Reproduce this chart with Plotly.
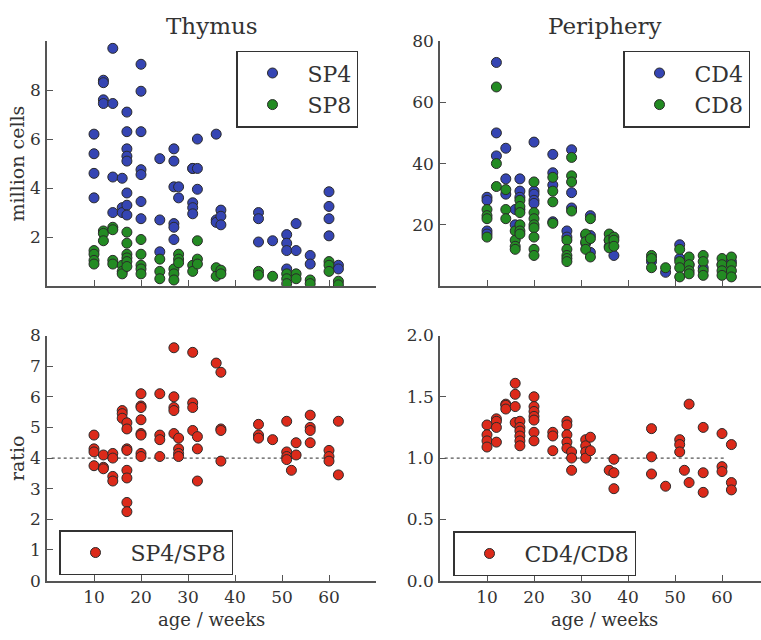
import plotly.graph_objects as go

# ---------------- data ----------------
# Thymus: SP4 and SP8 counts (million cells) by age (weeks)
sp4_age = [10,10,10,10, 12,12,12,12, 14,14,14,14, 16,16,16,
           17,17,17,17,17,17,17,17, 20,20,20,20,20,20,20, 24,24,24,
           27,27,27,27,27,27, 28,28, 31,31,31,31,31, 32,32,32,
           36,36,36, 37,37,37, 45,45,45, 48, 51,51,51,51, 53,53,
           56,56, 60,60,60,60, 62,62]
sp4_val = [6.2,5.4,4.6,3.6, 8.4,8.3,7.6,7.45, 9.7,7.45,4.45,3.0, 4.4,3.2,3.0,
           7.1,6.3,5.6,5.3,5.1,3.8,3.3,2.9, 9.05,7.95,6.3,4.75,4.55,3.45,2.75, 5.2,2.7,1.4,
           5.6,5.1,4.05,2.55,2.4,1.9, 4.05,3.6, 4.8,4.8,3.4,3.2,2.95, 6.0,4.8,3.95,
           6.2,2.7,2.6, 3.1,2.85,2.5, 3.0,2.75,1.8, 1.85, 2.1,1.75,1.45,0.7, 2.55,1.45,
           1.25,0.9, 3.85,3.25,2.75,2.05, 0.85,0.7]
sp8_age = [10,10,10,10, 12,12,12, 14,14,14,14, 16,16,16,
           17,17,17,17,17,17, 20,20,20,20,20, 24,24,24, 27,27,27,
           28,28,28, 31,31, 32,32,32, 36,36, 37,37, 45,45, 48,
           51,51,51, 53,53, 56,56, 60,60,60, 62,62]
sp8_val = [1.45,1.3,1.05,0.9, 2.25,2.15,1.85, 2.4,2.3,1.05,0.9, 0.85,0.6,0.5,
           2.2,1.75,1.3,1.15,1.0,0.8, 1.9,1.3,0.85,0.7,0.5, 1.1,0.6,0.3, 0.7,0.5,0.25,
           1.3,1.1,0.95, 0.85,0.6, 1.85,1.1,0.9, 0.75,0.4, 0.65,0.5, 0.6,0.45, 0.4,
           0.5,0.3,0.1, 0.5,0.3, 0.25,0.1, 1.0,0.85,0.6, 0.2,0.05]

# Periphery: CD4 and CD8 counts (million cells)
cd4_age = [10,10,10,10, 12,12,12, 14,14,14, 16,16, 17,17,17,17,
           20,20,20,20,20, 24,24,24,24, 27,27, 28,28,28, 31,31, 32,32,32,
           36,36, 37, 45, 48, 51,51, 53, 56, 60, 62]
cd4_val = [29,28,18,17, 73,50,42.5, 45,35,30, 25,20, 35,31,29,25,
           47,31,30,28,27, 43,37,33,21, 18,16, 44.5,30.5,25.5, 16.5,14, 23,16.5,11,
           15,13, 10, 8, 4.5, 13.5,9, 7, 6, 7, 8]
cd8_age = [10,10,10,10, 12,12,12, 14,14,14, 16,16,16,16, 17,17,17,17,17,17,
           20,20,20,20,20,20,20,20, 24,24,24,24, 27,27,27,27,27, 28,28,28,28,
           31,31,31, 32,32,32, 36,36,36, 37,37,37, 45,45,45, 48,
           51,51,51,51, 53,53,53,53, 56,56,56,56, 60,60,60,60, 62,62,62,62]
cd8_val = [25,23,22,16, 65,40,32.5, 31.5,25,22, 18,15,13,12, 28,26,24,20,18,17,
           34,24,22,20,19,16,12,10, 35.5,31,27.5,20.5, 15,12,10,9,8, 42,36,34,24.5,
           17,14.5,12, 22,15.5,9.5, 17,15,12.5, 16,15,13, 10,9,6, 6,
           12,8,6,3, 9.5,7,5,4, 10,8,5,3.5, 9,7,5,3.5, 9.5,7,5,3]

# Ratios
sp_ratio_age = [10,10,10,10, 12,12,12, 14,14,14,14, 16,16,16,
                17,17,17,17,17,17,17,17, 20,20,20,20,20,20,20,20, 24,24,24,24,
                27,27,27,27,27, 28,28,28,28, 31,31,31,31, 32,32,32, 36,
                37,37,37,37, 45,45,45, 48, 51,51,51,51, 52, 53,53,
                56,56,56,56, 60,60,60, 62,62]
sp_ratio_val = [4.75,4.3,4.2,3.75, 4.1,3.7,3.65, 4.15,4.0,3.4,3.25, 5.55,5.45,5.3,
                5.15,4.95,4.3,4.25,3.6,3.35,2.55,2.25, 6.1,5.7,5.65,5.25,4.8,4.75,4.15,4.05,
                6.1,4.75,4.6,4.05, 7.6,6.0,5.65,5.55,4.8, 4.65,4.3,4.15,4.05,
                7.45,5.8,5.65,4.9, 4.7,4.3,3.25, 7.1, 6.8,4.95,4.9,3.9,
                5.1,4.75,4.65, 4.6, 5.2,4.2,4.05,3.95, 3.6, 4.5,4.1,
                5.4,5.0,4.9,4.5, 4.25,4.05,3.9, 5.2,3.45]
cd_ratio_age = [10,10,10,10, 12,12,12,12, 14,14,14, 16,16,16,16,
                17,17,17,17,17,17, 20,20,20,20,20,20,20, 24,24,24,
                27,27,27,27,27, 28,28,28, 31,31,31,31, 32,32, 36,
                37,37,37, 45,45,45, 48, 51,51,51, 52, 53,53,
                56,56,56, 60,60,60, 62,62,62]
cd_ratio_val = [1.27,1.19,1.14,1.09, 1.32,1.30,1.25,1.13, 1.44,1.43,1.40, 1.61,1.52,1.42,1.29,
                1.30,1.25,1.22,1.18,1.14,1.10, 1.50,1.42,1.38,1.34,1.31,1.21,1.14, 1.21,1.18,1.06,
                1.30,1.27,1.19,1.13,1.08, 1.05,1.00,0.90, 1.15,1.10,1.05,1.00, 1.17,1.06, 0.90,
                0.99,0.88,0.75, 1.24,1.01,0.87, 0.77, 1.15,1.11,1.05, 0.90, 1.44,0.80,
                1.25,0.88,0.72, 1.20,0.93,0.89, 1.11,0.80,0.74]

sp_ref = 4.0
cd_ref = 1.0
ref_age = [1, 61]

x_ticks = [10, 20, 30, 40, 50, 60]
titles = ["Thymus", "Periphery"]

# ---------------- styling ----------------
W, H = 761, 640
FONT = "DejaVu Serif"
TXT = "#333333"
AX = "#555555"
BLUE = "#3545b3"
GREEN = "#238b23"
RED = "#dc2a1a"
EDGE = "#2a2a2a"
MS = 10

# pixel geometry of the panels
L1, R1 = 47, 376
L2, R2full = 440, 769
T1, B1 = 32, 285
T2, B2 = 336, 589
XMAX = 70

def px(x):
    return x / W

def py(y):
    return 1 - y / H

right_range = XMAX * (W - L2) / (R2full - L2)

fig = go.Figure()

def add(x, y, name, color, xa, ya, legend):
    fig.add_trace(go.Scatter(
        x=x, y=y, mode="markers", name=name, legend=legend, legendgroup=name,
        xaxis=xa, yaxis=ya,
        marker=dict(size=MS, color=color, line=dict(color=EDGE, width=1)),
        showlegend=True))

add(sp4_age, sp4_val, "SP4", BLUE, "x", "y", "legend")
add(sp8_age, sp8_val, "SP8", GREEN, "x", "y", "legend")
add(cd4_age, cd4_val, "CD4", BLUE, "x2", "y2", "legend2")
add(cd8_age, cd8_val, "CD8", GREEN, "x2", "y2", "legend2")

for xa, ya, ref in [("x3", "y3", sp_ref), ("x4", "y4", cd_ref)]:
    fig.add_trace(go.Scatter(x=ref_age, y=[ref, ref], mode="lines", xaxis=xa, yaxis=ya,
                             line=dict(color="#555555", width=1.3, dash="dot"),
                             showlegend=False, hoverinfo="skip"))

add(sp_ratio_age, sp_ratio_val, "SP4/SP8", RED, "x3", "y3", "legend3")
add(cd_ratio_age, cd_ratio_val, "CD4/CD8", RED, "x4", "y4", "legend4")

def xaxis(dom, rng, labels):
    return dict(domain=dom, range=rng, showline=True, linecolor=AX, linewidth=1.5,
                ticks="inside", ticklen=6, tickwidth=1.2, tickcolor=AX,
                tickvals=x_ticks, showticklabels=labels, showgrid=False, zeroline=False,
                tickfont=dict(family=FONT, size=17, color=TXT), ticklabelstandoff=0,
                fixedrange=True)

def yaxis(dom, rng, tv, tt, anchor):
    return dict(domain=dom, range=rng, showline=True, linecolor=AX, linewidth=1.5,
                ticks="inside", ticklen=6, tickwidth=1.2, tickcolor=AX,
                tickvals=tv, ticktext=tt, showgrid=False, zeroline=False,
                tickfont=dict(family=FONT, size=17, color=TXT), ticklabelstandoff=1,
                anchor=anchor, fixedrange=True)

xd1 = [px(L1), px(R1)]
xd2 = [px(L2), 1.0]
yd1 = [py(B1), py(T1)]
yd2 = [py(B2), py(T2)]

fig.update_layout(
    width=W, height=H, margin=dict(l=0, r=0, t=0, b=0),
    paper_bgcolor="white", plot_bgcolor="white",
    font=dict(family=FONT, color=TXT),
    xaxis=dict(**xaxis(xd1, [0, XMAX], False), anchor="y"),
    xaxis2=dict(**xaxis(xd2, [0, right_range], False), anchor="y2"),
    xaxis3=dict(**xaxis(xd1, [0, XMAX], True), anchor="y3"),
    xaxis4=dict(**xaxis(xd2, [0, right_range], True), anchor="y4"),
    yaxis=yaxis(yd1, [0, 10], [2, 4, 6, 8], ["2", "4", "6", "8"], "x"),
    yaxis2=yaxis(yd1, [0, 80], [20, 40, 60, 80], ["20", "40", "60", "80"], "x2"),
    yaxis3=yaxis(yd2, [0, 8], list(range(9)), [str(i) for i in range(9)], "x3"),
    yaxis4=yaxis(yd2, [0, 2], [0, 0.5, 1, 1.5, 2], ["0.0", "0.5", "1.0", "1.5", "2.0"], "x4"),
)

def legend(x, y):
    return dict(x=px(x), y=py(y), xanchor="left", yanchor="top",
                bgcolor="white", bordercolor="#333333", borderwidth=1.5,
                font=dict(family=FONT, size=22, color=TXT),
                itemwidth=60, tracegroupgap=0, itemclick=False, itemdoubleclick=False)

fig.update_layout(
    legend=legend(236, 42),
    legend2=legend(623, 42),
    legend3=legend(59, 537),
    legend4=legend(453, 538),
)

ann = []
for t, cx in zip(titles, [(L1 + R1) / 2, (L2 + R2full) / 2]):
    ann.append(dict(text=t, x=px(cx), y=py(17), xref="paper", yref="paper",
                    showarrow=False, font=dict(family=FONT, size=23, color=TXT),
                    xanchor="center", yanchor="middle"))
for cx in [(L1 + R1) / 2, (L2 + R2full) / 2]:
    ann.append(dict(text="age / weeks", x=px(cx), y=py(629), xref="paper", yref="paper",
                    showarrow=False, font=dict(family=FONT, size=18, color=TXT),
                    xanchor="center", yanchor="middle", borderpad=0))
for t, cy in [("million cells", (T1 + B1) / 2), ("ratio", (T2 + B2) / 2)]:
    ann.append(dict(text=t, x=px(17), y=py(cy), xref="paper", yref="paper",
                    showarrow=False, textangle=-90, font=dict(family=FONT, size=19, color=TXT),
                    xanchor="center", yanchor="middle"))
fig.update_layout(annotations=ann)

fig.write_html("out.html")
